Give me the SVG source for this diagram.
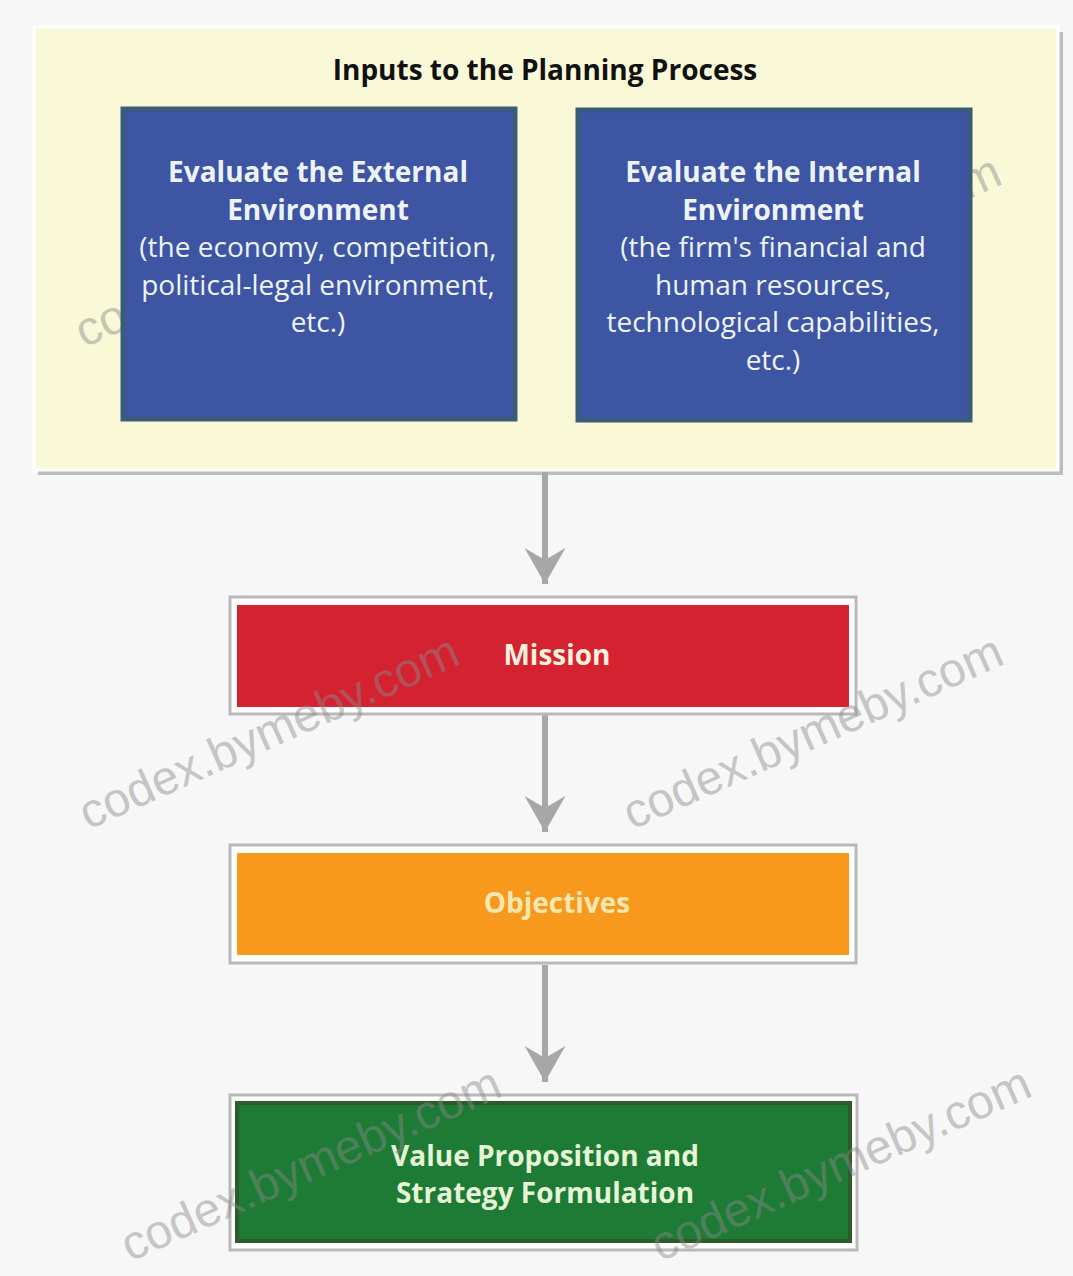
<svg xmlns="http://www.w3.org/2000/svg" width="1073" height="1276" viewBox="0 0 1073 1276">
<defs>
<style>
.t{font-family:"Open Sans","Liberation Sans",sans-serif;font-weight:bold;text-anchor:middle}
.blue{fill:#3d55a3;stroke:#3a5c7a;stroke-width:5}
.bt{fill:#eef3fa;font-size:28px}
.n{font-weight:normal}
.wm{font-family:"Liberation Sans",Arial,sans-serif;font-size:48px;fill:#8a8a8a;opacity:0.45}
.frame{fill:#ffffff;stroke:#b9b9b9;stroke-width:3}
.conn{stroke:#a7a7a7;stroke-width:6;fill:none}
</style>
<marker id="ah" markerWidth="8" markerHeight="8" refX="6" refY="4" orient="auto" markerUnits="strokeWidth">
<path d="M0,0.6 L6,4 L0,7.4 L2,4 Z" fill="#a7a7a7"/>
</marker>
</defs>
<rect width="1073" height="1276" fill="#f7f7f7"/>

<g id="inputs">
<rect x="38" y="32" width="1025" height="443" fill="#bdbdbd"/>
<rect x="34" y="27" width="1024" height="443" fill="#f9f9d8" stroke="#ffffff" stroke-width="3"/>
<text class="t" x="545" y="80" font-size="28" fill="#111">Inputs to the Planning Process</text>
</g>

<g id="watermarks-top">
<text class="wm" transform="translate(84,348) rotate(-24)">codex.bymeby.com</text>
<text class="wm" transform="translate(630,350) rotate(-24)">codex.bymeby.com</text>
</g>

<g id="external">
<rect class="blue" x="123" y="109" width="392" height="310"/>
<text class="t bt" x="318" y="182">Evaluate the External</text>
<text class="t bt" x="318" y="220">Environment</text>
<text class="t bt n" x="318" y="257">(the economy, competition,</text>
<text class="t bt n" x="318" y="295">political-legal environment,</text>
<text class="t bt n" x="318" y="332">etc.)</text>
</g>

<g id="internal">
<rect class="blue" x="578" y="110" width="392" height="310"/>
<text class="t bt" x="773" y="182">Evaluate the Internal</text>
<text class="t bt" x="773" y="220">Environment</text>
<text class="t bt n" x="773" y="257">(the firm's financial and</text>
<text class="t bt n" x="773" y="295">human resources,</text>
<text class="t bt n" x="773" y="332">technological capabilities,</text>
<text class="t bt n" x="773" y="370">etc.)</text>
</g>

<g id="connectors">
<line class="conn" x1="545" y1="472" x2="545" y2="584" marker-end="url(#ah)"/>
<line class="conn" x1="545" y1="715" x2="545" y2="832" marker-end="url(#ah)"/>
<line class="conn" x1="545" y1="965" x2="545" y2="1082" marker-end="url(#ah)"/>
</g>

<g id="mission">
<rect class="frame" x="230" y="597" width="626" height="117"/>
<rect x="237" y="605" width="612" height="102" fill="#d42231"/>
<text class="t" x="557" y="665" font-size="28" fill="#fbf1dc">Mission</text>
</g>

<g id="objectives">
<rect class="frame" x="230" y="845" width="626" height="118"/>
<rect x="237" y="853" width="612" height="102" fill="#f8981d"/>
<text class="t" x="557" y="913" font-size="28" fill="#f6e6b0">Objectives</text>
</g>

<g id="value">
<rect class="frame" x="230" y="1095" width="627" height="155"/>
<rect x="237" y="1103" width="613" height="138" fill="#1e7b35" stroke="#2f5a2a" stroke-width="4"/>
<text class="t" x="545" y="1166" font-size="28" fill="#e6f5d8">Value Proposition and</text>
<text class="t" x="545" y="1203" font-size="28" fill="#e6f5d8">Strategy Formulation</text>
</g>

<g id="watermarks">
<text class="wm" transform="translate(88,830) rotate(-24)">codex.bymeby.com</text>
<text class="wm" transform="translate(632,830) rotate(-24)">codex.bymeby.com</text>
<text class="wm" transform="translate(130,1262) rotate(-24)">codex.bymeby.com</text>
<text class="wm" transform="translate(660,1262) rotate(-24)">codex.bymeby.com</text>
</g>
</svg>
